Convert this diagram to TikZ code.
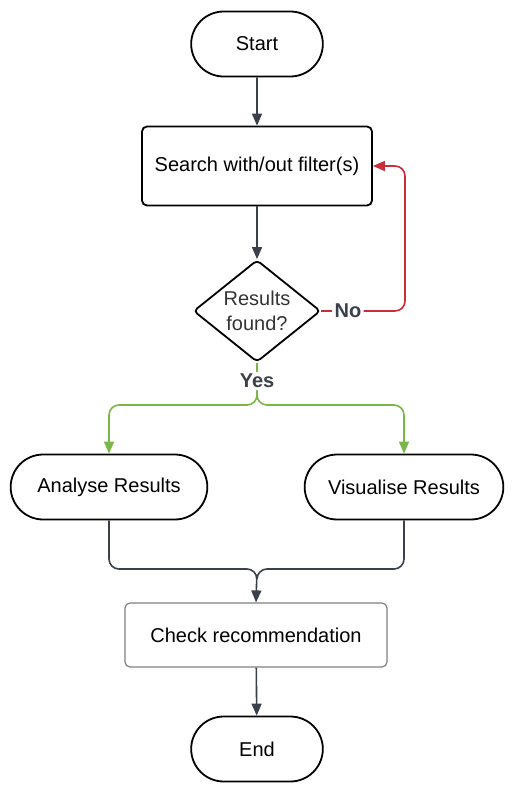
\documentclass[tikz,border=0pt]{standalone}
\usepackage{fontspec}
\setmainfont{Liberation Sans}
\usetikzlibrary{shapes.misc,shapes.geometric,arrows.meta}
\definecolor{dark}{HTML}{3A414A}
\definecolor{nored}{HTML}{C92D39}
\definecolor{yesgreen}{HTML}{7AB648}
\begin{document}
\begin{tikzpicture}[>={Triangle[length=6pt,width=5pt]},x=.5pt,y=-.5pt,font=\fontsize{10}{12.5}\selectfont,
	term/.style={rounded rectangle,draw,line width=.9pt,minimum height=32.5pt},
	proc/.style={rectangle,draw,rounded corners=2.5pt,line width=.9pt},
	dec/.style={diamond,draw,rounded corners=2pt,line width=.9pt,aspect=1.25,inner sep=0pt,
		minimum width=63.5pt,minimum height=51pt,align=center,text=black!80},
	lbl/.style={font=\fontsize{10}{12}\selectfont\bfseries,text=dark,fill=white,inner sep=1pt},
	line/.style={draw=dark,line width=.8pt,rounded corners=5pt}]
	\useasboundingbox (0,0) rectangle (515,793);
	% Knoten
	\node[term,minimum width=72.5pt] (start) at (257,44) {Start};
	\node[proc,minimum width=115pt,minimum height=39.5pt] (search) at (257,166) {Search with/out filter(s)};
	\node[dec] (found) at (257,311) {Results\\found?};
	\node[lbl] (no) at (348,311) {No};
	\node[lbl] (yes) at (257,381) {Yes};
	\node[term,minimum width=105pt] (ana) at (109,487) {Analyse Results};
	\node[term,minimum width=106pt] (vis) at (404,487) {Visualise Results};
	\node[proc,draw=black!50,line width=.6pt,minimum width=131pt,minimum height=32pt] (check) at (256,635) {Check recommendation};
	\node[term,minimum width=72.5pt] (end) at (257,749) {End};
	\coordinate (loop) at (405,311);
	\coordinate (split) at (257,405);
	\coordinate (merge) at (257,569);
	% Pfeile
	\draw[line,->] (start) -- (search);
	\draw[line,->] (search) -- (found);
	\draw[line,draw=nored] (found.east) -- (no.west);
	\draw[line,draw=nored,->] (no.east) -- (loop) |- (search.east);
	\draw[line,draw=yesgreen] (found.south) -- (yes.north);
	\draw[line,draw=yesgreen,->] (yes.south) -- (split) -| (ana.north);
	\draw[line,draw=yesgreen,->] (yes.south) -- (split) -| (vis.north);
	\draw[line,->] (ana.south) |- (merge) -- (check.north);
	\draw[line] (vis.south) |- (merge) -- ++(0,10);
	\draw[line,->] (check) -- (end);
\end{tikzpicture}
\end{document}
